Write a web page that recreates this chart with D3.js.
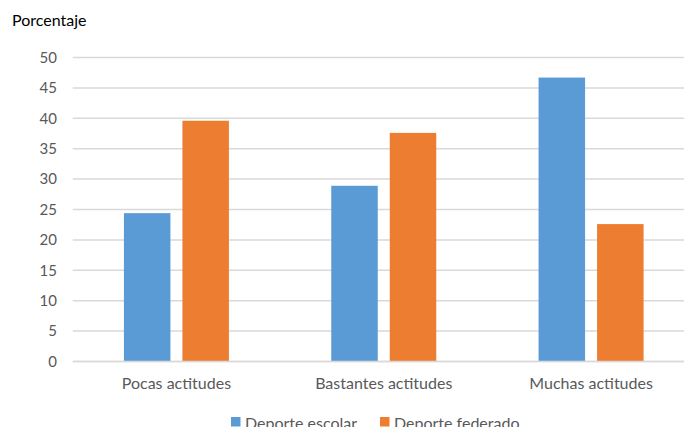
<!DOCTYPE html>
<html>
<head>
<meta charset="utf-8">
<script src="https://cdn.jsdelivr.net/npm/d3@7"></script>
<style>
  html, body { margin: 0; padding: 0; background: #fff; }
  svg { display: block; }
  text { font-family: Lato, "Open Sans", sans-serif; }
</style>
</head>
<body>
<svg id="chart" width="684" height="427"></svg>
<script>
// Categories, series and values
const categories = ["Pocas actitudes", "Bastantes actitudes", "Muchas actitudes"];
const seriesNames = ["Deporte escolar", "Deporte federado"];
const escolar = [24.4, 28.9, 46.7];
const federado = [39.6, 37.6, 22.6];
const yTicks = [0, 5, 10, 15, 20, 25, 30, 35, 40, 45, 50];
const colors = ["#5B9BD5", "#ED7D31"];

const seriesValues = [escolar, federado];
const rows = categories.map((c, i) => ({ cat: c, vals: seriesValues.map(s => s[i]) }));

const svg = d3.select("#chart");

const x = d3.scaleBand()
  .domain(categories)
  .range([72.75, 694.75])
  .paddingInner(0.4935)
  .paddingOuter(0.2468);

const xs = d3.scaleBand()
  .domain(seriesNames)
  .range([0, x.bandwidth()])
  .paddingInner(0.205);

const y = d3.scaleLinear().domain([0, 50]).range([361.5, 57.5]);

// Horizontal gridlines
svg.append("g")
  .selectAll("line")
  .data(yTicks)
  .join("line")
  .attr("x1", 72.75).attr("x2", 684)
  .attr("y1", d => y(d)).attr("y2", d => y(d))
  .attr("stroke", "#D9D9D9")
  .attr("stroke-width", 1.5);

// Y axis labels
const yAxis = d3.axisLeft(y).tickValues(yTicks).tickSize(0).tickPadding(0);
const yg = svg.append("g").attr("transform", "translate(57,0)").call(yAxis);
yg.select(".domain").remove();
yg.selectAll("text")
  .attr("fill", "#595959")
  .style("font-size", "15px")
  .style("font-family", "Lato, 'Open Sans', sans-serif");

// Bars
const groups = svg.append("g")
  .selectAll("g")
  .data(rows)
  .join("g")
  .attr("transform", d => `translate(${x(d.cat)},0)`);

groups.selectAll("rect")
  .data(d => d.vals.map((v, j) => ({ name: seriesNames[j], v, j })))
  .join("rect")
  .attr("x", d => xs(d.name))
  .attr("width", xs.bandwidth())
  .attr("y", d => y(d.v))
  .attr("height", d => y(0) - y(d.v))
  .attr("fill", d => colors[d.j]);

// Baseline
svg.append("line")
  .attr("x1", 72.75).attr("x2", 684)
  .attr("y1", y(0)).attr("y2", y(0))
  .attr("stroke", "#D9D9D9")
  .attr("stroke-width", 1.5);

// Category labels
const xAxis = d3.axisBottom(x).tickSize(0).tickPadding(0);
const xg = svg.append("g").attr("transform", "translate(0,389)").call(xAxis);
xg.select(".domain").remove();
xg.selectAll("text")
  .attr("dy", 0)
  .attr("fill", "#595959")
  .style("font-size", "16px")
  .style("font-family", "Lato, 'Open Sans', sans-serif");

// Axis title
svg.append("text")
  .attr("x", 12).attr("y", 26)
  .attr("fill", "#000")
  .style("font-size", "16px")
  .text("Porcentaje");

// Legend
const legendX = [231, 380];
const lg = svg.append("g")
  .selectAll("g")
  .data(seriesNames)
  .join("g")
  .attr("transform", (d, i) => `translate(${legendX[i]},0)`);
lg.append("rect")
  .attr("x", 0).attr("y", 417)
  .attr("width", 9.5).attr("height", 9.5)
  .attr("fill", (d, i) => colors[i]);
lg.append("text")
  .attr("x", 14).attr("y", 428.5)
  .attr("fill", "#595959")
  .style("font-size", "16px")
  .text(d => d);
</script>
</body>
</html>
